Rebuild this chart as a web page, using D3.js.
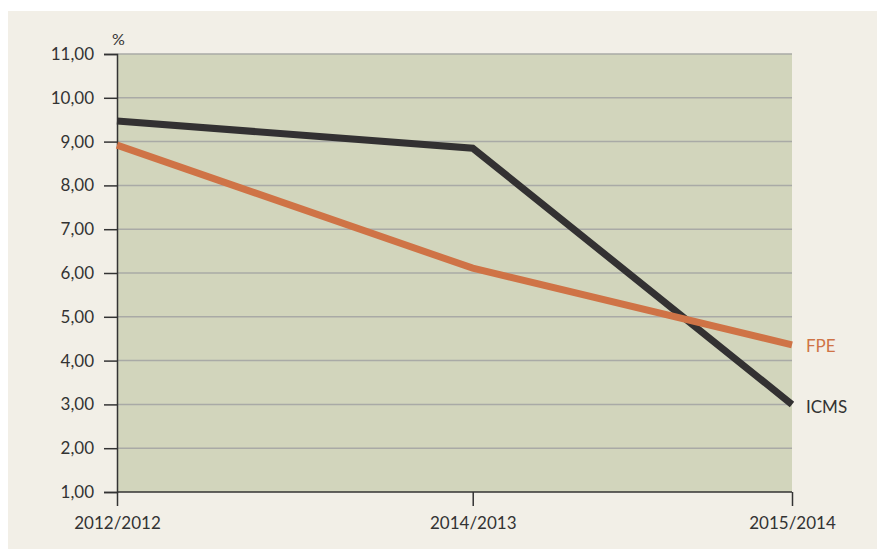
<!DOCTYPE html>
<html lang="pt">
<head>
<meta charset="utf-8">
<script src="https://d3js.org/d3.v7.min.js"></script>
<style>
  body { margin: 0; background: #fff; }
  svg text { font-family: Lato, "Open Sans", sans-serif; }
</style>
</head>
<body>
<div id="chart"></div>
<script>
// data
var periods = ["2012/2012", "2014/2013", "2015/2014"];
var periodPos = [0, 0.527, 1];   // relative spacing along the x axis, as in the original
var icms = [9.47, 8.85, 3.0];
var fpe = [8.92, 6.11, 4.36];
var yTicks = [1, 2, 3, 4, 5, 6, 7, 8, 9, 10, 11];

var W = 877, H = 549;
var margin = {top: 54, right: 85, bottom: 57, left: 117},
    width = W - margin.left - margin.right,
    height = H - margin.top - margin.bottom;

var svg = d3.select("#chart").append("svg")
    .attr("width", W).attr("height", H);

// outer panel
svg.append("rect")
  .attr("x", 8).attr("y", 11)
  .attr("width", W - 8).attr("height", H - 11)
  .attr("fill", "#f2efe7");

var g = svg.append("g")
  .attr("transform", `translate(${margin.left},${margin.top})`);

var x = d3.scaleOrdinal()
  .domain(periods)
  .range(periodPos.map(function(p) { return p * width; }));
var y = d3.scaleLinear().domain([1, 11]).range([height, 0]);

// plot area
g.append("rect")
  .attr("width", width).attr("height", height)
  .attr("fill", "#d2d5bc");

// grid
g.selectAll(".grid").data(yTicks.slice(1)).enter()
  .append("line")
  .attr("x1", 0).attr("x2", width)
  .attr("y1", function(d) { return y(d); })
  .attr("y2", function(d) { return y(d); })
  .attr("stroke", "#a9aaa6").attr("stroke-width", 1.5);

// y axis
var yAxis = d3.axisLeft(y).tickValues(yTicks).tickSize(13).tickPadding(10)
  .tickFormat(function(d) { return d3.format(".2f")(d).replace(".", ","); });
var ya = g.append("g").call(yAxis);
ya.select(".domain").attr("stroke", "#333").attr("stroke-width", 1.5);
ya.selectAll(".tick line").attr("stroke", "#333").attr("stroke-width", 1.5);
ya.selectAll(".tick text").attr("fill", "#333").style("font-size", "17px");

// x axis
var xAxis = d3.axisBottom(x).tickSize(14).tickPadding(11);
var xa = g.append("g").attr("transform", `translate(0,${height})`).call(xAxis);
xa.select(".domain").attr("stroke", "#333").attr("stroke-width", 1.5)
  .attr("d", `M0,0H${width}`);
xa.selectAll(".tick line").attr("stroke", "#333").attr("stroke-width", 1.5);
xa.selectAll(".tick text").attr("fill", "#333").style("font-size", "17px");

// unit
g.append("text")
  .attr("x", -5).attr("y", -9)
  .attr("fill", "#333").style("font-size", "16px")
  .text("%");

var line = d3.line()
  .x(function(d, i) { return x(periods[i]); })
  .y(function(d) { return y(d); });

g.append("path").datum(icms)
  .attr("d", line)
  .attr("fill", "none").attr("stroke", "#333132").attr("stroke-width", 7);

g.append("path").datum(fpe)
  .attr("d", line)
  .attr("fill", "none").attr("stroke", "#cf7346").attr("stroke-width", 7);

// series labels
g.append("text")
  .attr("x", x(periods[2]) + 14).attr("y", y(fpe[2]) + 7)
  .attr("fill", "#cf7346").style("font-size", "17px")
  .text("FPE");
g.append("text")
  .attr("x", x(periods[2]) + 14).attr("y", y(icms[2]) + 9)
  .attr("fill", "#333").style("font-size", "17px")
  .text("ICMS");
</script>
</body>
</html>
